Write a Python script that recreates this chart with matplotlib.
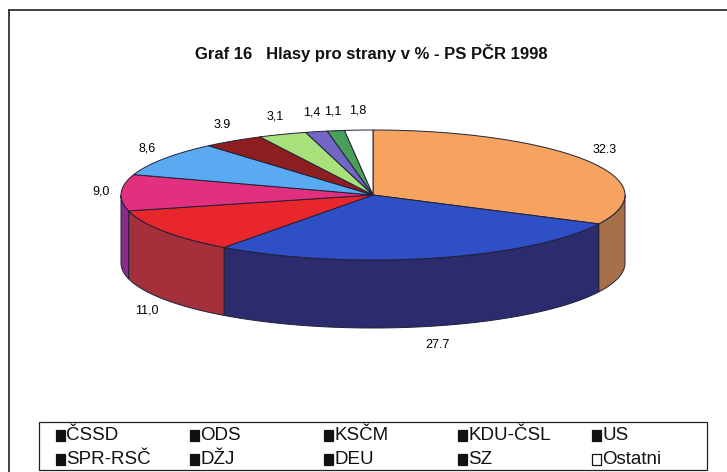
import numpy as np
import matplotlib.pyplot as plt
from matplotlib.patches import Polygon, Rectangle

plt.rcParams['font.family'] = ['Liberation Sans', 'DejaVu Sans']

parties = ['ČSSD', 'ODS', 'KSČM', 'KDU-ČSL', 'US',
           'SPR-RSČ', 'DŽJ', 'DEU', 'SZ', 'Ostatni']
votes = [32.3, 27.7, 11.0, 9.0, 8.6, 3.9, 3.1, 1.4, 1.1, 1.8]
labels = ['32.3', '27.7', '11,0', '9,0', '8,6', '3.9', '3,1', '1,4', '1,1', '1,8']

top_colors = ['#f5a35e', '#2f4fc6', '#e8262c', '#e2307e', '#5aaaf2',
              '#8e1e22', '#a8e07a', '#7466c4', '#4aa05a', '#ffffff']
side_colors = ['#a8704a', '#2b2b6e', '#a3303a', '#8a2a8a', '#3a70a0',
               '#5a1416', '#70a050', '#4a3e88', '#2e6a3a', '#bbbbbb']

# pie geometry (pixel coords)
cx, cy = 373, 195
rx, ry = 252, 65
depth = 68

fig = plt.figure(figsize=(7.27, 4.72), dpi=100)
ax = fig.add_axes([0, 0, 1, 1])
ax.set_xlim(0, 727)
ax.set_ylim(472, 0)
ax.axis('off')


def ell(theta, dy=0):
    t = np.radians(theta)
    return cx + rx * np.cos(t), cy - ry * np.sin(t) + dy


frac = np.array(votes) / sum(votes)
edges = 90 - 360 * np.concatenate([[0], np.cumsum(frac)])

# side walls (front half only)
for i in range(len(votes)):
    hi, lo = edges[i], edges[i + 1]
    a, b = max(lo, -180), min(hi, 0)
    if b <= a:
        continue
    th = np.linspace(a, b, 80)
    x, y = ell(th)
    xb, yb = ell(th[::-1], depth)
    ax.add_patch(Polygon(np.column_stack([np.r_[x, xb], np.r_[y, yb]]),
                         fc=side_colors[i], ec='#202038', lw=0.7))

# top wedges
for i in range(len(votes)):
    hi, lo = edges[i], edges[i + 1]
    th = np.linspace(lo, hi, 120)
    x, y = ell(th)
    pts = np.column_stack([np.r_[cx, x], np.r_[cy, y]])
    ax.add_patch(Polygon(pts, fc=top_colors[i], ec='#202038', lw=0.7))

# data labels
for i, lab in enumerate(labels):
    mid = np.radians((edges[i] + edges[i + 1]) / 2)
    lx = cx + 1.08 * rx * np.cos(mid)
    ly = cy - 1.3 * ry * np.sin(mid)
    if np.sin(mid) < -0.3:
        ly += depth
    ax.text(lx, ly, lab, fontsize=9, ha='center', va='center', color='#000000')

ax.text(371, 53, 'Graf 16   Hlasy pro strany v % - PS PČR 1998',
        fontsize=12, fontweight='bold', ha='center', va='center', color='#111111')

# outer frame
ax.plot([9, 9], [10, 472], color='#333333', lw=1.3)
ax.plot([9, 727], [10, 10], color='#333333', lw=1.3)

# legend
ax.add_patch(Rectangle((39, 422), 668, 48, fc='white', ec='#222222', lw=0.9))
for i, name in enumerate(parties):
    col, row = i % 5, i // 5
    mx = 56 + 134 * col
    my = 435 + 24 * row
    fc = 'white' if name == 'Ostatni' else '#111111'
    ax.add_patch(Rectangle((mx, my - 5.5), 8.5, 11, fc=fc, ec='#111111', lw=0.9))
    ax.text(mx + 10, my, name, fontsize=13.5, ha='left', va='center', color='#111111')

fig.savefig('out.png', dpi=100)
